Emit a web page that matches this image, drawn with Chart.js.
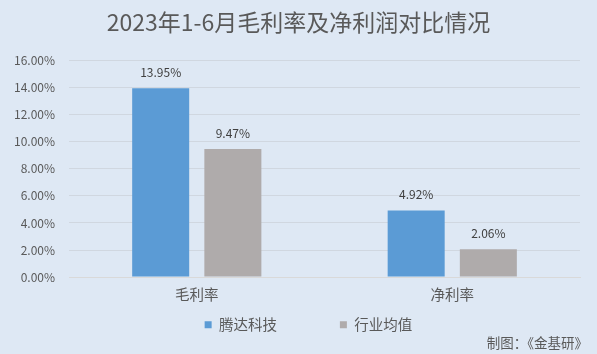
<!DOCTYPE html>
<html><head><meta charset="utf-8">
<script src="https://cdn.jsdelivr.net/npm/chart.js@4"></script>
<style>html,body{margin:0;padding:0;background:#dee8f4;}#wrap{width:597px;height:354px;}</style>
</head><body><div id="wrap"><canvas id="c" width="597" height="354"></canvas></div>
<script>
const categories = ['毛利率', '净利率'];
const seriesNames = ['腾达科技', '行业均值'];
const tengda = [13.95, 4.92];
const industry = [9.47, 2.06];
const yTicks = [0, 2, 4, 6, 8, 10, 12, 14, 16];
const titleText = '2023年1-6月毛利率及净利润对比情况';
const footerText = '制图：《金基研》';

const FONT = '"Noto Sans CJK SC", "Microsoft YaHei", sans-serif';
const labelPlugin = {
  id: 'valLabels',
  afterDatasetsDraw(chart) {
    const ctx = chart.ctx;
    ctx.save();
    ctx.font = '12px ' + FONT;
    ctx.fillStyle = '#404040';
    ctx.textAlign = 'center';
    ctx.textBaseline = 'bottom';
    chart.data.datasets.forEach((ds, i) => {
      chart.getDatasetMeta(i).data.forEach((bar, j) => {
        ctx.fillText(ds.data[j].toFixed(2) + '%', bar.x, bar.y - 10);
      });
    });
    ctx.restore();
  }
};
const bgPlugin = {
  id: 'bg',
  beforeDraw(chart) {
    const ctx = chart.ctx;
    ctx.save();
    ctx.fillStyle = '#dee8f4';
    ctx.fillRect(0, 0, chart.width, chart.height);
    ctx.restore();
  }
};
const footerPlugin = {
  id: 'footer',
  afterDraw(chart) {
    const ctx = chart.ctx;
    ctx.save();
    ctx.font = '13.5px ' + FONT;
    ctx.fillStyle = '#595959';
    ctx.textAlign = 'right';
    ctx.textBaseline = 'middle';
    ctx.fillText(footerText, 588, 343);
    ctx.restore();
  }
};
new Chart(document.getElementById('c'), {
  type: 'bar',
  data: {
    labels: categories,
    datasets: [
      { label: seriesNames[0], data: tengda, backgroundColor: '#5b9bd5', categoryPercentage: 0.565, barPercentage: 0.79 },
      { label: seriesNames[1], data: industry, backgroundColor: '#afabab', categoryPercentage: 0.565, barPercentage: 0.79 }
    ]
  },
  options: {
    responsive: false,
    animation: false,
    layout: { padding: { left: 0, right: 0, top: 8, bottom: 12 } },
    scales: {
      x: {
        grid: { display: false, drawTicks: false },
        border: { color: '#d9d9d9' },
        ticks: { color: '#595959', font: { family: FONT, size: 14.5 }, padding: 9 }
      },
      y: {
        min: 0, max: 16,
        afterBuildTicks(axis) { axis.ticks = yTicks.map(v => ({ value: v })); },
        grid: { color: '#d0d7e0', drawTicks: false },
        border: { display: false },
        ticks: { color: '#595959', font: { family: FONT, size: 12 }, padding: 14,
          callback: v => v.toFixed(2) + '%' }
      },
      rightGap: {
        type: 'linear', position: 'right', display: true,
        grid: { display: false, drawTicks: false }, border: { display: false },
        ticks: { display: false },
        afterFit(axis) { axis.width = 17; }
      }
    },
    plugins: {
      title: { display: true, text: titleText, color: '#595959',
        font: { family: FONT, size: 23, weight: 'normal' }, padding: { top: 0, bottom: 25 } },
      legend: { position: 'bottom', fullSize: false, labels: { color: '#595959', boxWidth: 7, boxHeight: 7, padding: 5,
        font: { family: FONT, size: 14.5 },
        generateLabels(chart) {
          const items = Chart.defaults.plugins.legend.labels.generateLabels(chart);
          items.forEach((it, i) => {
            it.lineWidth = 0;
            it.text = it.text + (i < items.length - 1 ? '\u3000\u3000\u3000\u3000' : '\u3000\u3000 ');
          });
          return items;
        } } },
      tooltip: { enabled: false }
    }
  },
  plugins: [bgPlugin, labelPlugin, footerPlugin]
});
</script></body></html>
